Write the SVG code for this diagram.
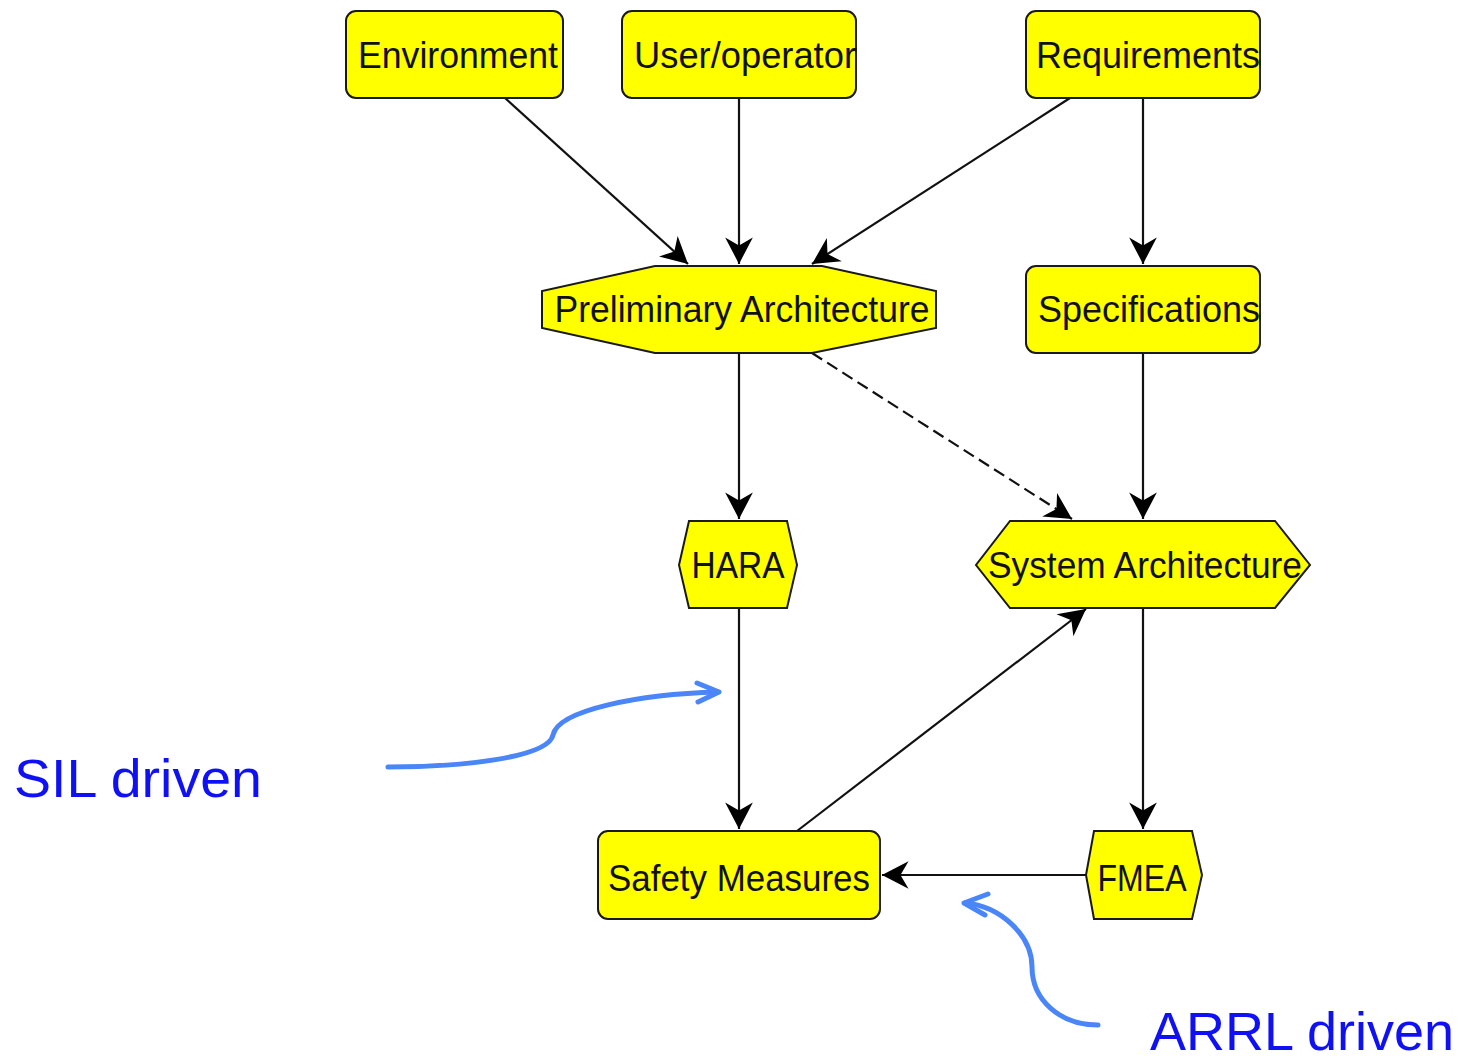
<svg xmlns="http://www.w3.org/2000/svg" width="1464" height="1058" viewBox="0 0 1464 1058">
<style>
.n{fill:#ffff00;stroke:#1a1a1a;stroke-width:2}
.t{font-family:"Liberation Sans",Arial,sans-serif;font-size:37px;fill:#111;text-anchor:middle}
.e{fill:none;stroke:#111;stroke-width:2.2}
.d{stroke-dasharray:12,6}
.b{fill:none;stroke:#4a86f7;stroke-width:5;stroke-linecap:round;stroke-linejoin:round}
.l{font-family:"Liberation Sans",Arial,sans-serif;font-size:54px;fill:#1010f5}
</style>
<defs>
<marker id="ah" markerUnits="userSpaceOnUse" markerWidth="30" markerHeight="30" viewBox="-24 -13 26 26" refX="0" refY="0" orient="auto">
<path d="M0,0 L-23,-12 L-16,0 L-23,12 Z" fill="#000"/>
</marker>
</defs>
<rect width="1464" height="1058" fill="#fff"/>
<g id="connectors">
<line class="e" x1="505" y1="98" x2="688" y2="264" marker-end="url(#ah)"/>
<line class="e" x1="739" y1="98" x2="739" y2="264" marker-end="url(#ah)"/>
<line class="e" x1="1070" y1="98" x2="812" y2="264" marker-end="url(#ah)"/>
<line class="e" x1="1143" y1="98" x2="1143" y2="264" marker-end="url(#ah)"/>
<line class="e" x1="739" y1="353" x2="739" y2="519" marker-end="url(#ah)"/>
<line class="e d" x1="812" y1="353" x2="1072" y2="519" marker-end="url(#ah)"/>
<line class="e" x1="1143" y1="353" x2="1143" y2="519" marker-end="url(#ah)"/>
<line class="e" x1="739" y1="608" x2="739" y2="829" marker-end="url(#ah)"/>
<line class="e" x1="797" y1="831" x2="1086" y2="609" marker-end="url(#ah)"/>
<line class="e" x1="1143" y1="608" x2="1143" y2="829" marker-end="url(#ah)"/>
<line class="e" x1="1086" y1="875" x2="882" y2="875" marker-end="url(#ah)"/>
</g>
<g id="environment"><rect class="n" x="346" y="11" width="217" height="87" rx="10"/><text class="t" x="458" y="68" textLength="200" lengthAdjust="spacingAndGlyphs">Environment</text></g>
<g id="user-operator"><rect class="n" x="622" y="11" width="234" height="87" rx="10"/><text class="t" x="745" y="68" textLength="222" lengthAdjust="spacingAndGlyphs">User/operator</text></g>
<g id="requirements"><rect class="n" x="1026" y="11" width="234" height="87" rx="10"/><text class="t" x="1148" y="68" textLength="224" lengthAdjust="spacingAndGlyphs">Requirements</text></g>
<g id="preliminary-architecture"><polygon class="n" points="655,266 822,266 936,291 936,328 812,353 655,353 542,328 542,291"/><text class="t" x="742" y="322" textLength="375" lengthAdjust="spacingAndGlyphs">Preliminary Architecture</text></g>
<g id="specifications"><rect class="n" x="1026" y="266" width="234" height="87" rx="10"/><text class="t" x="1149" y="322" textLength="222" lengthAdjust="spacingAndGlyphs">Specifications</text></g>
<g id="hara"><polygon class="n" points="689,521 787,521 797,565 787,608 689,608 679,565"/><text class="t" x="738" y="578" textLength="93" lengthAdjust="spacingAndGlyphs">HARA</text></g>
<g id="system-architecture"><polygon class="n" points="1010,521 1275,521 1310,565 1275,608 1010,608 976,565"/><text class="t" x="1145" y="578" textLength="314" lengthAdjust="spacingAndGlyphs">System Architecture</text></g>
<g id="safety-measures"><rect class="n" x="598" y="831" width="282" height="88" rx="10"/><text class="t" x="739" y="891" textLength="262" lengthAdjust="spacingAndGlyphs">Safety Measures</text></g>
<g id="fmea"><polygon class="n" points="1094,831 1192,831 1202,875 1192,919 1094,919 1086,875"/><text class="t" x="1142" y="891" textLength="89" lengthAdjust="spacingAndGlyphs">FMEA</text></g>
<g id="annotations">
<path class="b" d="M388,767 C460,767 548,758 553,735 C558,710 640,694 718,692"/>
<path class="b" d="M697,683 L719,692 L698,702"/>
<path class="b" d="M1098,1025 C1060,1025 1032,1000 1032,967 C1032,935 1000,906 965,903"/>
<path class="b" d="M988,894 L964,903 L985,915"/>
<text class="l" x="14" y="797" textLength="248" lengthAdjust="spacingAndGlyphs">SIL driven</text>
<text class="l" x="1150" y="1050" textLength="304" lengthAdjust="spacingAndGlyphs">ARRL driven</text>
</g>
</svg>
